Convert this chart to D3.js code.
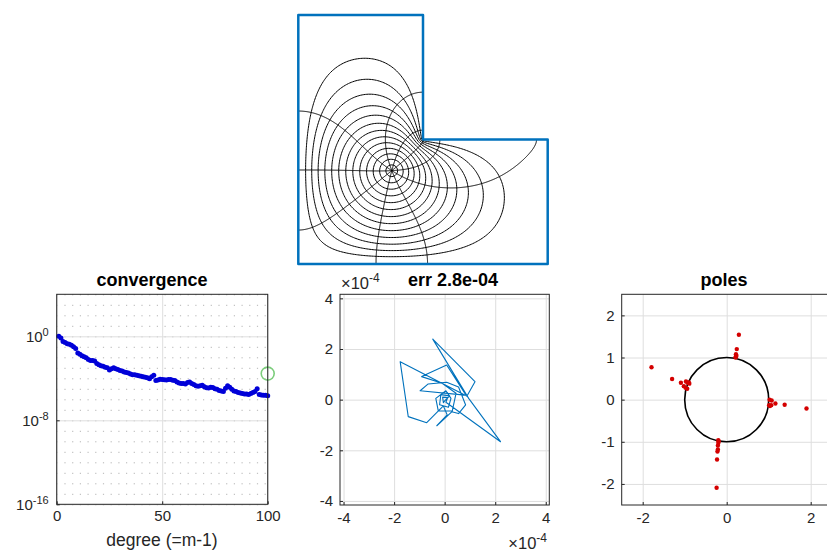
<!DOCTYPE html>
<html>
<head>
<meta charset="utf-8">
<script src="https://cdn.jsdelivr.net/npm/d3@7"></script>
<style>
  body { margin: 0; background: #fff; }
  svg { font-family: "Liberation Sans", Arial, sans-serif; }
  .tick text { fill: #262626; font-size: 15px; }
  .title { font-weight: bold; font-size: 18px; fill: #000; text-anchor: middle; }
  .frame { fill: none; stroke: #262626; stroke-width: 1; }
  .grid line { stroke: #dedede; stroke-width: 1; }
  .grid .domain { display: none; }
  .minor line { stroke: #b4b4b4; stroke-dasharray: 1.2,6.5; }
  .axis .domain { display: none; }
  .axis line { stroke: #262626; }
</style>
</head>
<body>
<svg id="fig" width="827" height="552"></svg>
<script>
// ---- values ----
var lShape = [[0,0],[2,0],[2,1],[1,1],[1,2],[0,2]];
var mapCenter = [0.75, 0.75];
var circleRadii = [0.07,0.14,0.21,0.28,0.35,0.42,0.49,0.56,0.63,0.70,0.77,0.84,0.91];
var rayCount = 10, rayStart = 183;

// log10 of the error for degree 1..100
var convLog = [0.0,-0.15,-0.5,-0.6,-0.7,-0.75,-0.85,-1.0,-1.15,-1.6,
  -1.7,-1.85,-1.95,-2.05,-2.2,-2.3,-2.3,-2.35,-2.6,-2.7,
  -2.8,-2.85,-2.95,-3.0,-3.2,-3.1,-3.0,-3.1,-3.15,-3.25,
  -3.3,-3.4,-3.45,-3.5,-3.6,-3.65,-3.65,-3.7,-3.75,-3.8,
  -3.85,-3.9,-3.95,-4.05,-3.85,-3.7,-4.2,-4.15,-4.1,-4.12,
  -4.13,-4.15,-4.12,-4.12,-4.18,-4.22,-4.35,-4.45,-4.5,-4.5,
  -4.55,-4.4,-4.35,-4.5,-4.6,-4.7,-4.75,-4.7,-4.65,-4.8,
  -4.9,-4.92,-4.85,-4.88,-5.0,-5.05,-5.15,-5.2,-5.25,-4.95,
  -4.7,-4.85,-5.05,-5.2,-5.25,-5.35,-5.4,-5.45,-5.5,-5.5,
  -5.55,-5.45,-5.35,-5.25,-5.0,-5.55,-5.6,-5.62,-5.62,-5.65];
var finalDegree = 100, finalErr = 2.8e-4;
var convTicksX = [0, 50, 100];
var convTicksY = [1e-16, 1e-8, 1];

// error curve, units of 1e-4
var errRe = [0.00,0.20,-0.15,-0.20,0.15,0.25,0.05,-0.35,-0.25,0.30,0.45,-0.10,-0.91,0.08,0.87,-1.76,-1.44,-0.71,-0.05,0.10,
  -0.31,0.28,0.55,0.83,0.55,0.08,-0.65,-0.97,0.90,1.20,-0.47,0.95,2.21,0.05,0.12,-0.08,-0.05,0.00];
var errIm = [-0.05,0.15,0.20,-0.20,-0.30,0.05,0.35,0.05,-0.45,-0.45,0.25,0.65,0.91,1.37,0.14,1.50,-0.67,-0.91,-0.25,-0.60,
  -1.03,-0.48,-0.55,-0.21,0.50,0.69,0.62,0.35,0.17,0.71,2.39,0.05,-1.66,-0.10,0.08,0.10,-0.12,-0.05];
var errTicks = [-4, -2, 0, 2, 4];

var poleRe = [0.29,0.24,0.22,0.22,0.21,0.23,
  -1.79,-1.30,-1.09,-0.97,-0.90,-0.93,-1.02,-0.98,-0.94,-0.89,
  1.02,1.07,1.01,1.06,1.16,1.38,1.90,1.03,
  -0.20,-0.20,-0.21,-0.21,-0.22,-0.23,-0.24,-0.19];
var poleIm = [1.54,1.20,1.08,1.02,1.00,1.04,
  0.77,0.49,0.40,0.43,0.41,0.40,0.32,0.28,0.26,0.38,
  0.00,-0.02,-0.13,-0.13,-0.09,-0.12,-0.21,-0.15,
  -0.96,-1.03,-1.09,-1.18,-1.23,-1.42,-2.09,-0.99];
var poleTicksX = [-2, 0, 2];
var poleTicksY = [-2, -1, 0, 1, 2];

var svg = d3.select("#fig");
var plain = function(d) { return String(d); };

// ---- conformal map picture (Green's function on a grid) ----
var N = 80, M = 2 * N + 1, hh = 1 / N;
var H = new Float64Array(M * M), mask = new Int8Array(M * M);
function dist0(x, y) { return Math.hypot(x - mapCenter[0], y - mapCenter[1]); }
for (var j = 0; j < M; j++) {
  for (var i = 0; i < M; i++) {
    var k = j * M + i;
    if (i > N && j > N) { mask[k] = 0; }
    else if (i == 0 || j == 0 || i == 2 * N || j == 2 * N || (i >= N && j == N) || (i == N && j >= N)) {
      mask[k] = 2; H[k] = Math.log(dist0(i * hh, j * hh));
    } else { mask[k] = 1; H[k] = Math.log(0.5); }
  }
}
var omega = 2 / (1 + Math.sin(Math.PI / (2 * N)));
for (var it = 0; it < 900; it++) {
  for (var j = 1; j < M - 1; j++) {
    for (var i = 1; i < M - 1; i++) {
      var k = j * M + i;
      if (mask[k] != 1) continue;
      var g = 0.25 * (H[k - 1] + H[k + 1] + H[k - M] + H[k + M]);
      H[k] += omega * (g - H[k]);
    }
  }
}
var R = new Float64Array(M * M);
for (var k = 0; k < M * M; k++) {
  var i = k % M, j = (k - i) / M;
  R[k] = mask[k] == 0 ? 2 : dist0(i * hh, j * hh) * Math.exp(-H[k]);
}

var xs = d3.scaleLinear().domain([0, 2]).range([298.3, 547.7]);
var ys = d3.scaleLinear().domain([0, 2]).range([264, 15]);
var mapG = svg.append("g");
var gridLine = d3.line().x(function(p) { return xs((p[0] - 0.5) * hh); })
  .y(function(p) { return ys((p[1] - 0.5) * hh); });
var levels = d3.contours().size([M, M]).thresholds(circleRadii)(R);
levels.forEach(function(lv) {
  lv.coordinates.forEach(function(poly) {
    poly.forEach(function(ring) {
      // skip the rings that run along the edge of the grid
      var onEdge = ring.some(function(p) { return p[0] < 1 || p[1] < 1 || p[0] > M - 1 || p[1] > M - 1; });
      if (onEdge) return;
      mapG.append("path").attr("d", gridLine(ring) + "Z")
        .attr("fill", "none").attr("stroke", "#000").attr("stroke-width", 1);
    });
  });
});

function inside(x, y) { return x > 0 && y > 0 && x < 2 && y < 2 && (x < 1 || y < 1); }
function dir(x, y) {
  var fi = x / hh, fj = y / hh;
  var i = Math.max(0, Math.min(Math.floor(fi), M - 2)), j = Math.max(0, Math.min(Math.floor(fj), M - 2));
  var s = fi - i, t = fj - j;
  var h00 = H[j * M + i], h10 = H[j * M + i + 1], h01 = H[(j + 1) * M + i], h11 = H[(j + 1) * M + i + 1];
  var gx = ((1 - t) * (h10 - h00) + t * (h11 - h01)) / hh;
  var gy = ((1 - s) * (h01 - h00) + s * (h11 - h10)) / hh;
  var dx = x - mapCenter[0], dy = y - mapCenter[1], d2 = dx * dx + dy * dy;
  var vx = dx / d2 - gx, vy = dy / d2 - gy, n = Math.hypot(vx, vy);
  return [vx / n, vy / n];
}
var line = d3.line().x(function(p) { return xs(p[0]); }).y(function(p) { return ys(p[1]); });
for (var r = 0; r < rayCount; r++) {
  var a = (rayStart + r * 360 / rayCount) * Math.PI / 180;
  var x = mapCenter[0] + 0.008 * Math.cos(a), y = mapCenter[1] + 0.008 * Math.sin(a);
  var pts = [mapCenter, [x, y]], ds = 0.004;
  for (var st = 0; st < 3000; st++) {
    var d1 = dir(x, y);
    var d2 = dir(x + 0.5 * ds * d1[0], y + 0.5 * ds * d1[1]);
    x += ds * d2[0]; y += ds * d2[1];
    if (!inside(x, y)) {
      x = Math.max(0, Math.min(2, x)); y = Math.max(0, Math.min(2, y));
      if (x > 1 && y > 1) { if (x - 1 < y - 1) x = 1; else y = 1; }
      pts.push([x, y]); break;
    }
    pts.push([x, y]);
  }
  mapG.append("path").attr("d", line(pts)).attr("fill", "none").attr("stroke", "#000").attr("stroke-width", 1);
}
mapG.append("path").attr("d", line(lShape) + "Z").attr("fill", "none")
  .attr("stroke", "#0072BD").attr("stroke-width", 2.5).attr("stroke-linejoin", "round");

// ---- helpers for the lower panels ----
function frame(g, x0, x1, y0, y1) {
  g.append("rect").attr("class", "frame").attr("x", x0).attr("y", y0)
    .attr("width", x1 - x0).attr("height", y1 - y0);
}
function title(txt, cx) {
  svg.append("text").attr("class", "title").attr("x", cx).attr("y", 286).text(txt);
}

// ---- convergence ----
var cx = d3.scaleLinear().domain([0, 100]).range([56.7, 267.7]);
var cy = d3.scaleLog().domain([1e-16, 1e4]).range([504.3, 294.3]);
var cg = svg.append("g");
var decades = d3.range(-16, 5).map(function(e) { return Math.pow(10, e); });
cg.append("g").attr("class", "grid minor").attr("transform", "translate(56.7,0)")
  .call(d3.axisLeft(cy).tickValues(decades).tickSize(-211).tickFormat(""));
cg.append("g").attr("class", "grid").attr("transform", "translate(56.7,0)")
  .call(d3.axisLeft(cy).tickValues(convTicksY).tickSize(-211).tickFormat(""));
cg.append("g").attr("class", "grid").attr("transform", "translate(0,504.3)")
  .call(d3.axisBottom(cx).tickValues(convTicksX).tickSize(-210).tickFormat(""));
var cyAxis = cg.append("g").attr("class", "axis").attr("transform", "translate(56.7,0)")
  .call(d3.axisLeft(cy).tickValues(convTicksY).tickSize(-3).tickPadding(8).tickFormat(""));
cyAxis.selectAll(".tick text").each(function(d) {
  var t = d3.select(this);
  t.append("tspan").text("10");
  t.append("tspan").attr("dy", "-0.55em").attr("font-size", "11px").text(String(Math.round(Math.log10(d))));
});
cg.append("g").attr("class", "axis").attr("transform", "translate(0,504.3)")
  .call(d3.axisBottom(cx).tickValues(convTicksX).tickSize(-3).tickPadding(6).tickFormat(plain));
cg.selectAll("circle.dot").data(convLog).enter().append("circle").attr("class", "dot")
  .attr("cx", function(d, i) { return cx(i + 1); })
  .attr("cy", function(d) { return cy(Math.pow(10, d)); })
  .attr("r", 2.5).attr("fill", "#0000d8");
cg.append("circle").attr("cx", cx(finalDegree)).attr("cy", cy(finalErr)).attr("r", 6.5)
  .attr("fill", "none").attr("stroke", "#7ccd7c").attr("stroke-width", 1.6);
frame(cg, 56.7, 267.7, 294.3, 504.3);
title("convergence", 152);
svg.append("text").attr("x", 162).attr("y", 546).attr("text-anchor", "middle")
  .attr("font-size", "17.5px").attr("fill", "#262626").text("degree (=m-1)");

// ---- err ----
var ex = d3.scaleLinear().domain([-4.14, 4.14]).range([340, 549.3]);
var ey = d3.scaleLinear().domain([-4.16, 4.16]).range([505, 294.3]);
var eg = svg.append("g");
eg.append("g").attr("class", "grid").attr("transform", "translate(340,0)")
  .call(d3.axisLeft(ey).tickValues(errTicks).tickSize(-209.3).tickFormat(""));
eg.append("g").attr("class", "grid").attr("transform", "translate(0,505)")
  .call(d3.axisBottom(ex).tickValues(errTicks).tickSize(-210.7).tickFormat(""));
eg.append("g").attr("class", "axis").attr("transform", "translate(340,0)")
  .call(d3.axisLeft(ey).tickValues(errTicks).tickSize(-3).tickPadding(7).tickFormat(plain));
eg.append("g").attr("class", "axis").attr("transform", "translate(0,505)")
  .call(d3.axisBottom(ex).tickValues(errTicks).tickSize(-3).tickPadding(7).tickFormat(plain));
eg.append("path").datum(d3.range(errRe.length))
  .attr("d", d3.line().x(function(i) { return ex(errRe[i]); }).y(function(i) { return ey(errIm[i]); }))
  .attr("fill", "none").attr("stroke", "#0072BD").attr("stroke-width", 1.1).attr("stroke-linejoin", "round");
frame(eg, 340, 549.3, 294.3, 505);
function expLabel(x, y, anchor) {
  var t = svg.append("text").attr("x", x).attr("y", y).attr("text-anchor", anchor)
    .attr("font-size", "16.5px").attr("fill", "#262626");
  t.append("tspan").text("\u00d710");
  t.append("tspan").attr("dy", "-0.55em").attr("font-size", "12px").text("-4");
}
expLabel(341, 289, "start");
expLabel(547, 549, "end");
title("err 2.8e-04", 453);

// ---- poles ----
var px = d3.scaleLinear().domain([-2.5, 2.5]).range([621.7, 831.7]);
var py = d3.scaleLinear().domain([-2.5, 2.5]).range([505, 294.3]);
var pg = svg.append("g");
pg.append("g").attr("class", "grid").attr("transform", "translate(621.7,0)")
  .call(d3.axisLeft(py).tickValues(poleTicksY).tickSize(-210).tickFormat(""));
pg.append("g").attr("class", "grid").attr("transform", "translate(0,505)")
  .call(d3.axisBottom(px).tickValues(poleTicksX).tickSize(-210.7).tickFormat(""));
pg.append("g").attr("class", "axis").attr("transform", "translate(621.7,0)")
  .call(d3.axisLeft(py).tickValues(poleTicksY).tickSize(-3).tickPadding(7).tickFormat(plain));
pg.append("g").attr("class", "axis").attr("transform", "translate(0,505)")
  .call(d3.axisBottom(px).tickValues(poleTicksX).tickSize(-3).tickPadding(7).tickFormat(plain));
pg.append("ellipse").attr("cx", px(0)).attr("cy", py(0))
  .attr("rx", px(1) - px(0)).attr("ry", py(0) - py(1))
  .attr("fill", "none").attr("stroke", "#000").attr("stroke-width", 1.6);
pg.selectAll("circle.pole").data(poleRe).enter().append("circle").attr("class", "pole")
  .attr("cx", function(d) { return px(d); })
  .attr("cy", function(d, i) { return py(poleIm[i]); })
  .attr("r", 2.2).attr("fill", "#d40000");
frame(pg, 621.7, 831.7, 294.3, 505);
title("poles", 724);
</script>
</body>
</html>
